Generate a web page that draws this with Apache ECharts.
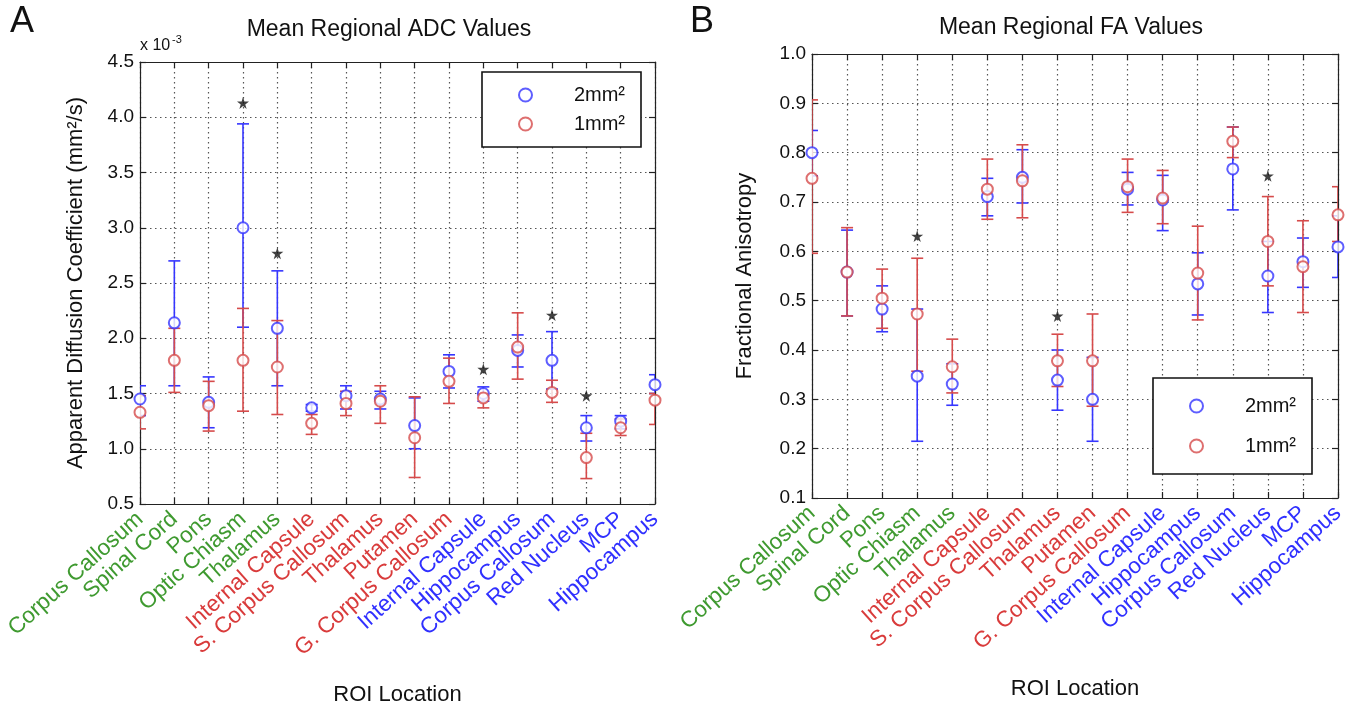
<!DOCTYPE html>
<html>
<head>
<meta charset="utf-8">
<script src="https://cdn.jsdelivr.net/npm/echarts@6/dist/echarts.min.js"></script>
<style>
  html, body { margin: 0; padding: 0; background: #fff; }
  #main { width: 1367px; height: 711px; }
</style>
</head>
<body>
<div id="main"></div>
<script>
// ROI names along the x axis (same for both panels)
const categories = ['Corpus Callosum', 'Spinal Cord', 'Pons', 'Optic Chiasm', 'Thalamus',
  'Internal Capsule', 'S. Corpus Callosum', 'Thalamus', 'Putamen', 'G. Corpus Callosum',
  'Internal Capsule', 'Hippocampus', 'Corpus Callosum', 'Red Nucleus', 'MCP', 'Hippocampus'];

// A: mean ADC (x 10^-3 mm2/s), error bar ends
const adc2Mean = [1.45, 2.14, 1.42, 3.00, 2.09, 1.37, 1.48, 1.45, 1.21, 1.70, 1.50, 1.89, 1.80, 1.19, 1.25, 1.58];
const adc2Low  = [1.30, 1.57, 1.19, 2.10, 1.57, 1.34, 1.36, 1.36, 1.00, 1.55, 1.43, 1.74, 1.54, 1.07, 1.18, 1.50];
const adc2High = [1.57, 2.70, 1.65, 3.94, 2.61, 1.40, 1.57, 1.52, 1.46, 1.85, 1.56, 2.03, 2.06, 1.30, 1.30, 1.67];
const adc1Mean = [1.33, 1.80, 1.39, 1.80, 1.74, 1.23, 1.41, 1.43, 1.10, 1.61, 1.46, 1.92, 1.51, 0.92, 1.19, 1.44];
const adc1Low  = [1.18, 1.51, 1.16, 1.34, 1.31, 1.13, 1.30, 1.23, 0.74, 1.41, 1.37, 1.63, 1.42, 0.73, 1.12, 1.22];
const adc1High = [1.48, 2.09, 1.61, 2.27, 2.16, 1.31, 1.52, 1.57, 1.47, 1.82, 1.50, 2.23, 1.62, 1.14, 1.27, 1.50];
const adcStarIdx = [3, 4, 10, 12, 13];
const adcStarVal = [4.13, 2.77, 1.72, 2.21, 1.48];

// B: mean FA
const fa2Mean = [0.800, 0.558, 0.483, 0.347, 0.331, 0.711, 0.750, 0.339, 0.300, 0.726, 0.704, 0.534, 0.767, 0.550, 0.579, 0.609];
const fa2Low  = [0.753, 0.469, 0.437, 0.215, 0.288, 0.672, 0.698, 0.278, 0.215, 0.694, 0.642, 0.471, 0.684, 0.476, 0.527, 0.547];
const fa2High = [0.845, 0.643, 0.530, 0.483, 0.372, 0.748, 0.806, 0.400, 0.385, 0.760, 0.754, 0.597, 0.852, 0.620, 0.627, 0.672];
const fa1Mean = [0.748, 0.558, 0.505, 0.473, 0.366, 0.726, 0.743, 0.378, 0.378, 0.731, 0.708, 0.556, 0.823, 0.620, 0.569, 0.674];
const fa1Low  = [0.596, 0.469, 0.444, 0.357, 0.313, 0.665, 0.668, 0.326, 0.286, 0.679, 0.656, 0.461, 0.790, 0.530, 0.476, 0.620];
const fa1High = [0.907, 0.648, 0.564, 0.586, 0.422, 0.787, 0.816, 0.432, 0.473, 0.787, 0.764, 0.651, 0.852, 0.711, 0.662, 0.731];
const faStarIdx = [3, 7, 13];
const faStarVal = [0.631, 0.469, 0.753];

const FONT = 'Liberation Sans, Arial, sans-serif';
const BLUE = '#3636ff';
const RED = '#d64b4b';
const STAR = 'path://M50,0 L61,35 L98,35 L68,57 L79,91 L50,70 L21,91 L32,57 L2,35 L39,35 Z';

const chart = echarts.init(document.getElementById('main'));

const errorBar = (color) => (params, api) => {
  const x = api.value(0);
  const top = api.coord([x, api.value(2)]);
  const bot = api.coord([x, api.value(1)]);
  const hw = 6;
  const style = {stroke: color, lineWidth: 1.6};
  return {
    type: 'group',
    children: [
      {type: 'line', shape: {x1: top[0], y1: top[1], x2: bot[0], y2: bot[1]}, style},
      {type: 'line', shape: {x1: top[0] - hw, y1: top[1], x2: top[0] + hw, y2: top[1]}, style},
      {type: 'line', shape: {x1: bot[0] - hw, y1: bot[1], x2: bot[0] + hw, y2: bot[1]}, style}
    ]
  };
};

const axisLine = {show: true, onZero: false, lineStyle: {color: '#222', width: 1.2}};
const tick = {show: true, inside: true, length: 6, lineStyle: {color: '#222', width: 1.2}};
const dotted = {show: true, lineStyle: {color: '#555', width: 1.2, type: [1.5, 3.5]}};

const makeX = (grid, position) => ({
  type: 'value', gridIndex: grid, position: position, min: 0, max: 15, interval: 1,
  axisLine: axisLine, axisTick: tick,
  splitLine: position === 'bottom' ? dotted : {show: false},
  name: position === 'bottom' ? 'ROI Location' : '',
  nameLocation: 'middle', nameGap: 180,
  nameTextStyle: {fontFamily: FONT, fontSize: 22, color: '#111'},
  axisLabel: {
    show: position === 'bottom', rotate: 42, margin: 12, interval: 0,
    formatter: (v) => {
      const i = Math.round(v);
      const tag = i < 5 ? 'g' : (i < 10 ? 'r' : 'b');
      return '{' + tag + '|' + categories[i] + '}';
    },
    rich: {
      g: {color: '#3f9a30', fontFamily: FONT, fontSize: 22.5},
      r: {color: '#d93b3b', fontFamily: FONT, fontSize: 22.5},
      b: {color: '#3030ff', fontFamily: FONT, fontSize: 22.5}
    }
  }
});

const makeY = (grid, position, min, max, interval, name, gap) => ({
  type: 'value', gridIndex: grid, position: position, min: min, max: max, interval: interval,
  axisLine: axisLine, axisTick: tick,
  splitLine: position === 'left' ? dotted : {show: false},
  name: position === 'left' ? name : '',
  nameLocation: 'middle', nameRotate: 90, nameGap: gap,
  nameTextStyle: {fontFamily: FONT, fontSize: 22, color: '#111'},
  axisLabel: {
    show: position === 'left', margin: 6,
    fontFamily: FONT, fontSize: 19, color: '#111',
    formatter: (v) => v.toFixed(1)
  }
});

const pairs = (lo, hi) => lo.map((v, i) => [i, v, hi[i]]);
const points = (vals) => vals.map((v, i) => [i, v]);
const starPoints = (idx, vals) => idx.map((k, i) => [k, vals[i]]);

const panelSeries = (xi, yi, m2, l2, h2, m1, l1, h1, sIdx, sVal) => [
  {type: 'custom', name: 'err2', xAxisIndex: xi, yAxisIndex: yi, clip: true, silent: true,
    renderItem: errorBar(BLUE), encode: {x: 0, y: [1, 2]}, data: pairs(l2, h2), z: 2},
  {type: 'custom', name: 'err1', xAxisIndex: xi, yAxisIndex: yi, clip: true, silent: true,
    renderItem: errorBar(RED), encode: {x: 0, y: [1, 2]}, data: pairs(l1, h1), z: 2},
  {type: 'scatter', name: '2mm²', xAxisIndex: xi, yAxisIndex: yi, clip: true,
    symbol: 'emptyCircle', symbolSize: 11, z: 3,
    itemStyle: {color: BLUE, borderColor: BLUE, borderWidth: 1.6}, data: points(m2)},
  {type: 'scatter', name: '1mm²', xAxisIndex: xi, yAxisIndex: yi, clip: true,
    symbol: 'emptyCircle', symbolSize: 11, z: 3,
    itemStyle: {color: RED, borderColor: RED, borderWidth: 1.6}, data: points(m1)},
  {type: 'scatter', name: 'sig', xAxisIndex: xi, yAxisIndex: yi, symbol: STAR, symbolSize: 12, z: 4,
    itemStyle: {color: '#111'}, data: starPoints(sIdx, sVal)}
];

const legendBox = (left, top, gap, pad) => ({
  orient: 'vertical', left: left, top: top, data: ['2mm²', '1mm²'],
  itemGap: gap, itemWidth: 13, itemHeight: 13, padding: pad,
  borderColor: '#111', borderWidth: 1.6, backgroundColor: '#fff',
  selectedMode: false,
  formatter: (n) => '{a|' + n + '}',
  textStyle: {rich: {a: {fontFamily: FONT, fontSize: 20, color: '#111', width: 88, align: 'right'}}}
});

const txt = (x, y, text, size, align) => ({
  type: 'text', x: x, y: y,
  style: {text: text, fontFamily: FONT, fontSize: size, fill: '#111', textAlign: align || 'left', textVerticalAlign: 'middle'}
});

chart.setOption({
  animation: false,
  backgroundColor: '#fff',
  grid: [
    {left: 140, top: 62, width: 515, height: 443},
    {left: 812, top: 54, width: 526, height: 444}
  ],
  xAxis: [makeX(0, 'bottom'), makeX(0, 'top'), makeX(1, 'bottom'), makeX(1, 'top')],
  yAxis: [
    makeY(0, 'left', 0.5, 4.5, 0.5, 'Apparent Diffusion Coefficient (mm²/s)', 53),
    makeY(0, 'right', 0.5, 4.5, 0.5, '', 0),
    makeY(1, 'left', 0.1, 1.0, 0.1, 'Fractional Anisotropy', 56),
    makeY(1, 'right', 0.1, 1.0, 0.1, '', 0)
  ],
  legend: [
    legendBox(482, 72, 9, [13, 16, 13, 36]),
    legendBox(1153, 378, 20, [18, 16, 18, 36])
  ],
  graphic: [
    txt(10, 22, 'A', 36),
    txt(690, 22, 'B', 36),
    txt(389, 30, 'Mean Regional ADC Values', 23, 'center'),
    txt(1071, 28, 'Mean Regional FA Values', 23, 'center'),
    txt(140, 46, 'x 10', 16),
    txt(172, 40, '-3', 11)
  ],
  series: [
    ...panelSeries(0, 0, adc2Mean, adc2Low, adc2High, adc1Mean, adc1Low, adc1High, adcStarIdx, adcStarVal),
    ...panelSeries(2, 2, fa2Mean, fa2Low, fa2High, fa1Mean, fa1Low, fa1High, faStarIdx, faStarVal)
  ]
});
</script>
</body>
</html>
